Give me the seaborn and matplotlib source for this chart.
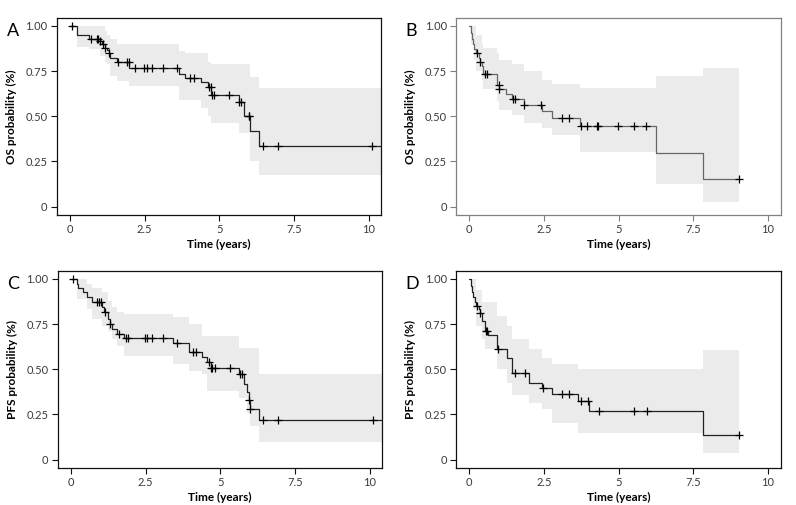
import numpy as np
import matplotlib
matplotlib.use("Agg")
import matplotlib.pyplot as plt
import seaborn as sns

# ---------------- data ----------------
x_ticks = [0, 2.5, 5, 7.5, 10]
x_tick_labels = ["0", "2.5", "5", "7.5", "10"]
y_ticks = [0, 0.25, 0.5, 0.75, 1.0]
y_tick_labels = ["0", "0.25", "0.50", "0.75", "1.00"]

# Panel A: OS
a_evt_t = [0, 0.25, 0.65, 1.00, 1.08, 1.17, 1.24, 1.30, 1.34, 1.58, 1.99, 3.66, 3.86, 4.38, 4.61, 4.72, 5.65, 5.82, 6.02, 6.32]
a_evt_s = [1.0, 0.948, 0.930, 0.916, 0.900, 0.880, 0.867, 0.852, 0.822, 0.800, 0.769, 0.735, 0.713, 0.690, 0.660, 0.617, 0.580, 0.500, 0.417, 0.333]
a_cens_t = [0.06, 0.69, 0.89, 0.95, 1.00, 1.09, 1.17, 1.32, 1.62, 1.92, 1.98, 2.18, 2.49, 2.57, 2.74, 3.10, 3.58, 4.03, 4.14,
            4.65, 4.71, 4.75, 4.83, 5.34, 5.67, 5.72, 5.98, 6.00, 6.46, 6.98, 10.10]
a_ci_t = [0, 0.25, 0.65, 1.00, 1.17, 1.24, 1.34, 1.58, 1.99, 3.66, 3.86, 4.38, 4.61, 4.72, 5.65, 5.82, 6.02, 6.32]
a_ci_hi = [1.0, 1.0, 1.0, 1.0, 0.972, 0.950, 0.926, 0.898, 0.898, 0.861, 0.852, 0.852, 0.800, 0.787, 0.787, 0.787, 0.720, 0.657]
a_ci_lo = [1.0, 0.885, 0.870, 0.833, 0.800, 0.787, 0.722, 0.694, 0.667, 0.593, 0.593, 0.547, 0.500, 0.464, 0.408, 0.408, 0.251, 0.173]

# Panel B: OS
b_evt_t = [0, 0.06, 0.10, 0.13, 0.17, 0.21, 0.31, 0.36, 0.41, 0.47, 0.917, 1.00, 1.23, 1.44, 1.83, 2.45, 2.76, 3.71, 6.25, 7.84]
b_evt_s = [1.0, 0.960, 0.930, 0.900, 0.875, 0.848, 0.824, 0.802, 0.778, 0.732, 0.676, 0.652, 0.626, 0.597, 0.560, 0.528, 0.489, 0.445, 0.297, 0.153]
b_cens_t = [0.27, 0.37, 0.53, 0.58, 0.98, 1.01, 1.47, 1.53, 1.83, 2.39, 3.12, 3.35, 3.74, 3.95, 4.28, 4.31, 4.99, 5.53, 5.92, 9.04]
b_ci_t = [0, 0.06, 0.15, 0.21, 0.31, 0.41, 0.47, 0.917, 1.00, 1.44, 1.83, 2.45, 2.76, 3.71, 6.25, 7.84]
b_ci_hi = [1.0, 1.0, 1.0, 0.95, 0.95, 0.90, 0.88, 0.85, 0.81, 0.79, 0.75, 0.70, 0.68, 0.657, 0.722, 0.765]
b_ci_lo = [1.0, 0.90, 0.81, 0.75, 0.75, 0.695, 0.65, 0.583, 0.537, 0.51, 0.464, 0.436, 0.398, 0.305, 0.124, 0.028]

# Panel C: PFS
c_evt_t = [0, 0.19, 0.245, 0.39, 0.547, 0.69, 1.03, 1.10, 1.23, 1.29, 1.36, 1.55, 1.77, 3.42, 3.96, 4.40, 4.56, 4.68,
           5.63, 5.79, 5.90, 5.96, 5.99, 6.29]
c_evt_s = [1.0, 0.972, 0.948, 0.926, 0.898, 0.870, 0.843, 0.815, 0.778, 0.753, 0.725, 0.694, 0.676, 0.648, 0.597, 0.566,
           0.539, 0.506, 0.472, 0.420, 0.374, 0.333, 0.278, 0.222]
c_cens_t = [0.08, 0.86, 0.95, 0.99, 1.15, 1.31, 1.62, 1.84, 1.90, 2.48, 2.53, 2.70, 3.09, 3.54, 4.07, 4.18, 4.63, 4.68,
            4.72, 4.83, 5.32, 5.67, 5.72, 5.96, 6.00, 6.44, 6.94, 10.10]
c_ci_t = [0, 0.19, 0.547, 0.69, 1.03, 1.23, 1.36, 1.55, 1.77, 3.42, 3.96, 4.40, 4.56, 5.63, 5.90, 5.99, 6.29]
c_ci_hi = [1.0, 1.0, 0.97, 0.95, 0.926, 0.88, 0.843, 0.815, 0.806, 0.787, 0.75, 0.685, 0.685, 0.62, 0.62, 0.62, 0.472]
c_ci_lo = [1.0, 0.889, 0.833, 0.778, 0.74, 0.713, 0.667, 0.63, 0.574, 0.528, 0.49, 0.472, 0.38, 0.34, 0.26, 0.185, 0.10]

# Panel D: PFS
d_evt_t = [0, 0.06, 0.10, 0.14, 0.18, 0.22, 0.31, 0.35, 0.41, 0.526, 0.637, 0.917, 1.27, 1.42, 2.01, 2.42, 2.76, 3.65, 4.01, 7.83]
d_evt_s = [1.0, 0.960, 0.930, 0.900, 0.875, 0.852, 0.833, 0.811, 0.768, 0.711, 0.689, 0.615, 0.565, 0.481, 0.426, 0.398,
           0.365, 0.324, 0.269, 0.139]
d_cens_t = [0.27, 0.36, 0.56, 0.60, 0.97, 1.53, 1.87, 2.48, 3.12, 3.35, 3.74, 3.98, 4.36, 5.52, 5.94, 9.03]
d_ci_t = [0, 0.06, 0.14, 0.22, 0.31, 0.41, 0.526, 0.917, 1.27, 1.42, 2.01, 2.42, 2.76, 3.65, 4.01, 7.83]
d_ci_hi = [1.0, 1.0, 1.0, 0.94, 0.94, 0.87, 0.87, 0.796, 0.74, 0.667, 0.611, 0.565, 0.528, 0.50, 0.50, 0.607]
d_ci_lo = [1.0, 0.94, 0.833, 0.74, 0.74, 0.667, 0.61, 0.50, 0.426, 0.36, 0.315, 0.278, 0.204, 0.15, 0.15, 0.037]

panel_letters = ["A", "B", "C", "D"]
panel_ylabels = ["OS probability (%)", "OS probability (%)", "PFS probability (%)", "PFS probability (%)"]
x_label = "Time (years)"

# ---------------- style ----------------
sns.set_theme(style="ticks")
plt.rcParams["font.family"] = ["Lato", "DejaVu Sans"]

XLIM = (-0.45, 10.43)
YLIM = (-0.046, 1.044)

fig = plt.figure(figsize=(7.96, 5.05), dpi=100)
positions = [
    [0.0711, 0.5743, 0.408, 0.390],
    [0.5727, 0.5743, 0.408, 0.390],
    [0.0724, 0.0733, 0.408, 0.390],
    [0.5727, 0.0733, 0.408, 0.390],
]
panels = [
    (a_evt_t, a_evt_s, a_cens_t, a_ci_t, a_ci_lo, a_ci_hi, XLIM[1], "#222222", "#111111"),
    (b_evt_t, b_evt_s, b_cens_t, b_ci_t, b_ci_lo, b_ci_hi, b_cens_t[-1], "#666666", "#808080"),
    (c_evt_t, c_evt_s, c_cens_t, c_ci_t, c_ci_lo, c_ci_hi, XLIM[1], "#222222", "#111111"),
    (d_evt_t, d_evt_s, d_cens_t, d_ci_t, d_ci_lo, d_ci_hi, d_cens_t[-1], "#222222", "#111111"),
]

for i, (pos, (et, es, ct, cit, clo, chi, end, lc, sc)) in enumerate(zip(positions, panels)):
    ax = fig.add_axes(pos)
    # confidence band
    ci_x = list(cit) + [end]
    ci_l = list(clo) + [clo[-1]]
    ci_h = list(chi) + [chi[-1]]
    ax.fill_between(ci_x, ci_l, ci_h, step="post", color="#ebebeb", linewidth=0, zorder=1)
    # survival curve
    lx = list(et) + [end]
    ly = list(es) + [es[-1]]
    sns.lineplot(x=lx, y=ly, drawstyle="steps-post", color=lc, linewidth=0.9,
                 estimator=None, sort=False, ax=ax, zorder=2)
    # censor marks
    idx = np.searchsorted(np.array(et), np.array(ct), side="right") - 1
    cy = np.array(es)[idx]
    sns.scatterplot(x=ct, y=cy, marker="+", s=26, color="black", linewidth=0.9, ax=ax, zorder=3)

    ax.set_xlim(*XLIM)
    ax.set_ylim(*YLIM)
    ax.set_xticks(x_ticks)
    ax.set_xticklabels(x_tick_labels)
    ax.set_yticks(y_ticks)
    ax.set_yticklabels(y_tick_labels)
    ax.tick_params(axis="both", direction="out", length=4, width=0.8, color=sc,
                   labelsize=8, labelcolor="#3a3a3a", pad=2.5)
    for sp in ax.spines.values():
        sp.set_visible(True)
        sp.set_color(sc)
        sp.set_linewidth(0.9)
    ax.set_xlabel(x_label, fontsize=8.5, fontweight="bold", color="black", labelpad=3)
    ax.set_ylabel(panel_ylabels[i], fontsize=8.5, fontweight="bold", color="black", labelpad=6)
    ax.grid(False)
    # panel letter
    fig.text(pos[0] - 0.063, pos[1] + pos[3] - 0.025, panel_letters[i], fontsize=13,
             color="black", ha="left", va="center")

fig.savefig("out.png", dpi=100)
